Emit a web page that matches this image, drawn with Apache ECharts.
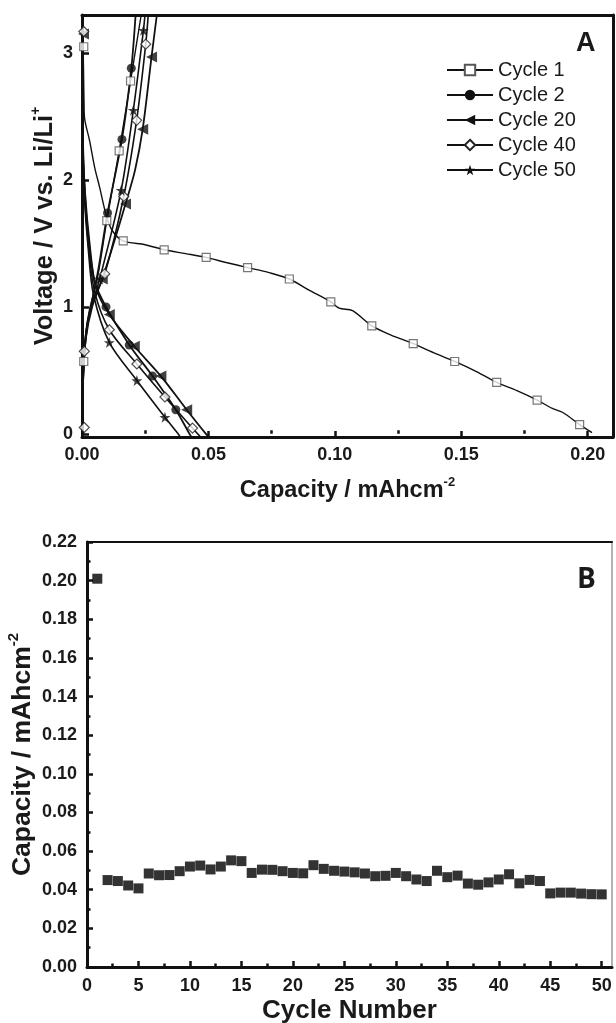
<!DOCTYPE html>
<html>
<head>
<meta charset="utf-8">
<script src="https://cdn.jsdelivr.net/npm/echarts@6/dist/echarts.min.js"></script>
<style>
html,body{margin:0;padding:0;background:#fff;}
#chart{width:616px;height:1023px;}
</style>
</head>
<body>
<div id="chart"></div>
<script>
// ---------- Panel A: voltage profiles [capacity (mAh cm-2), voltage (V)] ----------
const cycleNames = ['Cycle 1', 'Cycle 2', 'Cycle 20', 'Cycle 40', 'Cycle 50'];

const c1Discharge = [[0,3.12],[0.0004,3.05],[0.0008,2.62],[0.001,2.49],[0.003,2.31],[0.005,2.1],[0.007,1.94],[0.0096,1.72],[0.012,1.6],[0.0163,1.52],[0.025,1.49],[0.0325,1.45],[0.041,1.42],[0.0491,1.39],[0.057,1.35],[0.0655,1.31],[0.074,1.27],[0.082,1.22],[0.09,1.13],[0.0984,1.04],[0.1017,0.99],[0.107,0.97],[0.1146,0.85],[0.122,0.78],[0.131,0.71],[0.139,0.64],[0.1474,0.57],[0.156,0.49],[0.164,0.405],[0.172,0.34],[0.18,0.266],[0.186,0.2],[0.19,0.17],[0.1968,0.073],[0.2017,0.01]];
const c1Charge = [[0,0.0],[0.0003,0.3],[0.0007,0.57],[0.0015,0.8],[0.003,0.98],[0.0062,1.24],[0.0098,1.68],[0.0147,2.23],[0.0192,2.78],[0.0234,3.3]];
const c1Marks = [[0.0007,3.05],[0.0163,1.52],[0.0325,1.45],[0.0491,1.39],[0.0655,1.31],[0.082,1.22],[0.0984,1.04],[0.1146,0.85],[0.131,0.71],[0.1474,0.57],[0.164,0.405],[0.18,0.266],[0.1968,0.073],[0.0007,0.57],[0.0098,1.68],[0.0147,2.23],[0.0192,2.78]];

const c2Discharge = [[0,3.2],[0.0003,2.4],[0.001,1.95],[0.0025,1.55],[0.005,1.2],[0.0095,1.0],[0.0187,0.7],[0.0279,0.455],[0.0371,0.19],[0.0425,0.0],[0.0435,-0.03]];
const c2Charge = [[0,0.02],[0.0004,0.4],[0.0009,0.62],[0.002,0.85],[0.004,1.05],[0.0065,1.3],[0.0101,1.74],[0.0158,2.32],[0.0195,2.88],[0.0212,3.3]];
const c2Marks = [[0.0095,1.0],[0.0187,0.7],[0.0279,0.455],[0.0371,0.19],[0.0101,1.74],[0.0158,2.32],[0.0195,2.88]];

const c20Discharge = [[0,3.2],[0.0003,2.3],[0.0012,1.9],[0.003,1.5],[0.0055,1.15],[0.0108,0.94],[0.0207,0.69],[0.0312,0.455],[0.0414,0.19],[0.049,0.0],[0.0505,-0.03]];
const c20Charge = [[0,0.0],[0.0005,0.45],[0.0015,0.75],[0.004,1.0],[0.008,1.22],[0.0125,1.5],[0.0172,1.81],[0.021,2.08],[0.024,2.4],[0.0275,2.97],[0.0296,3.3]];
const c20Marks = [[0.0006,3.15],[0.0108,0.94],[0.0207,0.69],[0.0312,0.455],[0.0414,0.19],[0.008,1.22],[0.0172,1.81],[0.024,2.4],[0.0275,2.97]];

const c40Discharge = [[0,3.2],[0.0003,2.3],[0.001,1.9],[0.0025,1.5],[0.005,1.12],[0.0108,0.82],[0.0217,0.55],[0.0328,0.29],[0.0437,0.045],[0.0462,-0.01],[0.047,-0.03]];
const c40Charge = [[0,0.0],[0.0005,0.45],[0.0009,0.65],[0.002,0.85],[0.005,1.08],[0.009,1.26],[0.0165,1.87],[0.0216,2.47],[0.0252,3.07],[0.0262,3.3]];
const c40Marks = [[0.0007,3.17],[0.0108,0.82],[0.0217,0.55],[0.0328,0.29],[0.0437,0.045],[0.0009,0.05],[0.0009,0.65],[0.009,1.26],[0.0165,1.87],[0.0216,2.47],[0.0252,3.07]];

const c50Discharge = [[0,3.2],[0.0003,2.3],[0.001,1.85],[0.0025,1.45],[0.0045,1.1],[0.0108,0.72],[0.0217,0.42],[0.0328,0.13],[0.038,0.0],[0.039,-0.03]];
const c50Charge = [[0,0.0],[0.0004,0.4],[0.001,0.65],[0.003,0.95],[0.007,1.22],[0.0155,1.92],[0.0203,2.55],[0.0243,3.18],[0.0249,3.3]];
const c50Marks = [[0.0108,0.72],[0.0217,0.42],[0.0328,0.13],[0.007,1.22],[0.0155,1.92],[0.0203,2.55],[0.0243,3.18]];

const aXTicks = [0, 0.05, 0.10, 0.15, 0.20];
const aXMinorTicks = [0.025, 0.075, 0.125, 0.175];
const aYTicks = [0, 1, 2, 3];

// ---------- Panel B: capacity vs cycle number ----------
const cycleNumbers = [1,2,3,4,5,6,7,8,9,10,11,12,13,14,15,16,17,18,19,20,21,22,23,24,25,26,27,28,29,30,31,32,33,34,35,36,37,38,39,40,41,42,43,44,45,46,47,48,49,50];
const cycleCapacity = [0.201,0.045,0.0445,0.0422,0.0407,0.0484,0.0475,0.0476,0.0496,0.052,0.0525,0.0505,0.052,0.0552,0.0548,0.0487,0.0504,0.0503,0.0496,0.0487,0.0485,0.0527,0.0508,0.0498,0.0494,0.049,0.0484,0.047,0.0472,0.0487,0.047,0.0453,0.0445,0.0498,0.0465,0.0473,0.0432,0.0426,0.0438,0.0453,0.048,0.0433,0.0451,0.0445,0.0381,0.0385,0.0385,0.038,0.0377,0.0376];
const bXTicks = [0,5,10,15,20,25,30,35,40,45,50];
const bXMinorTicks = [2.5,7.5,12.5,17.5,22.5,27.5,32.5,37.5,42.5,47.5];

// ---------- styling ----------
const FONT = '"Liberation Sans", Arial, sans-serif';
const INK = '#1a1a1a';
const STAR = 'path://M50 0 L61.8 35.1 L98.1 35.1 L68.8 56.7 L79.4 90.9 L50 69.6 L20.6 90.9 L31.2 56.7 L1.9 35.1 L38.2 35.1 Z';

const cycles = [
  {name: cycleNames[0], dis: c1Discharge, chg: c1Charge, marks: c1Marks, symbol: 'rect', rotate: 0, size: 8,
   item: {color: '#fff', borderColor: '#555', borderWidth: 1.2}, width: 1.4},
  {name: cycleNames[1], dis: c2Discharge, chg: c2Charge, marks: c2Marks, symbol: 'circle', rotate: 0, size: 9,
   item: {color: '#111'}, width: 1.8},
  {name: cycleNames[2], dis: c20Discharge, chg: c20Charge, marks: c20Marks, symbol: 'triangle', rotate: 90, size: 11,
   item: {color: '#111'}, width: 1.8},
  {name: cycleNames[3], dis: c40Discharge, chg: c40Charge, marks: c40Marks, symbol: 'diamond', rotate: 0, size: 10,
   item: {color: '#fff', borderColor: '#222', borderWidth: 1.2}, width: 1.6},
  {name: cycleNames[4], dis: c50Discharge, chg: c50Charge, marks: c50Marks, symbol: STAR, rotate: 0, size: 11,
   item: {color: '#111'}, width: 1.6}
];

const series = [];
cycles.forEach(c => {
  ['dis', 'chg'].forEach(k => {
    series.push({
      type: 'line', name: c.name, xAxisIndex: 0, yAxisIndex: 0,
      data: c[k], smooth: 0.3, showSymbol: false,
      symbol: c.symbol, symbolRotate: c.rotate, symbolSize: c.size,
      itemStyle: c.item,
      lineStyle: {color: '#111', width: c.width},
      silent: true, z: 2
    });
  });
  series.push({
    type: 'scatter', name: c.name, xAxisIndex: 0, yAxisIndex: 0,
    data: c.marks, symbol: c.symbol, symbolRotate: c.rotate, symbolSize: c.size,
    itemStyle: c.item, silent: true, z: 3
  });
});
series.push({
  type: 'scatter', name: 'Capacity', xAxisIndex: 3, yAxisIndex: 3,
  data: cycleNumbers.map((n, i) => [n, cycleCapacity[i]]),
  symbol: 'rect', symbolSize: 10, itemStyle: {color: '#000'}, silent: true
});

const labelStyle = {fontFamily: FONT, fontWeight: 'bold', fontSize: 18, color: INK};
function richName(size) {
  return {
    rich: {
      t: {fontFamily: FONT, fontWeight: 'bold', fontSize: size, color: INK, lineHeight: size + 5},
      s: {fontFamily: FONT, fontWeight: 'bold', fontSize: Math.round(size * 0.55), color: INK, verticalAlign: 'top', lineHeight: Math.round(size * 0.6)}
    }
  };
}
const hidden = {axisLine: {show: false}, axisTick: {show: false}, axisLabel: {show: false}, splitLine: {show: false}};
const gridA = {left: 82, top: 15, width: 531, height: 422, containLabel: false, outerBoundsMode: 'none'};
const gridB = {left: 87, top: 542, width: 525, height: 425, containLabel: false, outerBoundsMode: 'none'};

const option = {
  animation: false,
  backgroundColor: '#fff',
  grid: [
    Object.assign({}, gridA),
    Object.assign({}, gridA),
    Object.assign({}, gridB),
    Object.assign({}, gridB)
  ],
  legend: {
    data: cycleNames, orient: 'vertical', left: 441, top: 55,
    itemWidth: 46, itemHeight: 13, itemGap: 5,
    textStyle: {fontFamily: FONT, fontSize: 20, color: INK, lineHeight: 20},
    selectedMode: false
  },
  xAxis: [
    {gridIndex: 0, type: 'value', position: 'bottom', min: 0, max: 0.21,
     axisLine: {onZero: false, lineStyle: {color: '#111', width: 3}},
     axisTick: {inside: true, length: 6, customValues: aXTicks, lineStyle: {color: '#111', width: 2.5}},
     axisLabel: Object.assign({customValues: aXTicks, margin: 9, formatter: v => v.toFixed(2)}, labelStyle),
     splitLine: {show: false},
     name: '{t|Capacity / mAhcm}{s|-2}', nameLocation: 'middle', nameGap: 39, nameMoveOverlap: false, nameTextStyle: richName(23.5)},
    Object.assign({gridIndex: 0, type: 'value', position: 'top', min: 0, max: 0.21}, hidden,
      {axisLine: {show: true, onZero: false, lineStyle: {color: '#111', width: 3}}}),
    Object.assign({gridIndex: 1, type: 'value', position: 'bottom', min: 0, max: 0.21}, hidden,
      {axisTick: {show: true, inside: true, length: 3.5, customValues: aXMinorTicks, lineStyle: {color: '#111', width: 2.5}}}),
    {gridIndex: 2, type: 'value', position: 'bottom', min: 0, max: 51,
     axisLine: {onZero: false, lineStyle: {color: '#111', width: 3}},
     axisTick: {inside: true, length: 6, customValues: bXTicks, lineStyle: {color: '#111', width: 2.5}},
     axisLabel: Object.assign({customValues: bXTicks, margin: 10}, labelStyle),
     splitLine: {show: false},
     name: 'Cycle Number', nameLocation: 'middle', nameGap: 28, nameMoveOverlap: false,
     nameTextStyle: {fontFamily: FONT, fontWeight: 'bold', fontSize: 26, color: INK, lineHeight: 31}},
    Object.assign({gridIndex: 2, type: 'value', position: 'top', min: 0, max: 51}, hidden,
      {axisLine: {show: true, onZero: false, lineStyle: {color: '#111', width: 2}}}),
    Object.assign({gridIndex: 3, type: 'value', position: 'bottom', min: 0, max: 51}, hidden,
      {axisTick: {show: true, inside: true, length: 3.5, customValues: bXMinorTicks, lineStyle: {color: '#111', width: 2.5}}})
  ],
  yAxis: [
    {gridIndex: 0, type: 'value', position: 'left', min: -0.025, max: 3.3,
     axisLine: {onZero: false, lineStyle: {color: '#111', width: 3}},
     axisTick: {inside: true, length: 7, customValues: aYTicks, lineStyle: {color: '#111', width: 2.5}},
     axisLabel: Object.assign({customValues: aYTicks, margin: 9}, labelStyle),
     splitLine: {show: false},
     name: '{t|Voltage / V vs. Li/Li}{s|+}', nameLocation: 'middle', nameGap: 22, nameMoveOverlap: false, nameTextStyle: richName(25.5)},
    Object.assign({gridIndex: 0, type: 'value', position: 'right', min: -0.025, max: 3.3}, hidden,
      {axisLine: {show: true, onZero: false, lineStyle: {color: '#111', width: 3}}}),
    Object.assign({gridIndex: 1, type: 'value', position: 'left', min: -0.025, max: 3.3, show: false}, hidden),
    {gridIndex: 2, type: 'value', position: 'left', min: 0, max: 0.22, interval: 0.02,
     axisLine: {onZero: false, lineStyle: {color: '#111', width: 3}},
     axisTick: {inside: true, length: 6, lineStyle: {color: '#111', width: 2.5}},
     minorTick: {show: true, splitNumber: 2, length: 3.5, lineStyle: {color: '#111', width: 2.5}},
     axisLabel: Object.assign({margin: 10, formatter: v => v.toFixed(2)}, labelStyle),
     splitLine: {show: false},
     name: '{t|Capacity / mAhcm}{s|-2}', nameLocation: 'middle', nameGap: 49, nameMoveOverlap: false, nameTextStyle: richName(26.5)},
    Object.assign({gridIndex: 2, type: 'value', position: 'right', min: 0, max: 0.22}, hidden,
      {axisLine: {show: true, onZero: false, lineStyle: {color: '#9a9a9a', width: 1.5}}}),
    Object.assign({gridIndex: 3, type: 'value', position: 'left', min: 0, max: 0.22, show: false}, hidden)
  ],
  graphic: [
    {type: 'text', left: 576, top: 30, style: {text: 'A', fontFamily: FONT, fontWeight: 'bold', fontSize: 27, fill: INK}},
    {type: 'text', left: 577, top: 566, style: {text: 'B', fontFamily: '"Open Sans", sans-serif', fontWeight: 'bold', fontSize: 28, fill: INK}}
  ],
  series: series
};

const chart = echarts.init(document.getElementById('chart'), null, {renderer: 'canvas'});
chart.setOption(option);
</script>
</body>
</html>
